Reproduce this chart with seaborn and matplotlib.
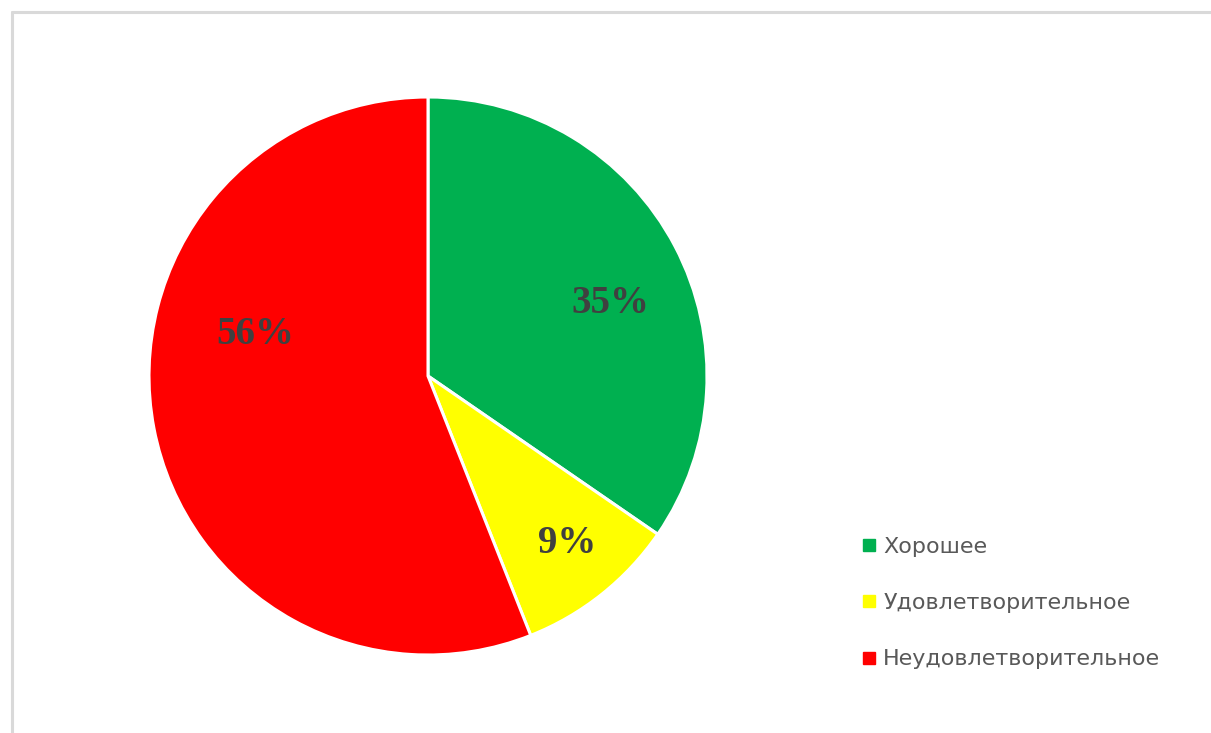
import matplotlib
matplotlib.use("Agg")
import matplotlib.pyplot as plt
from matplotlib.lines import Line2D
import seaborn as sns

# data
categories = ["Хорошее", "Удовлетворительное", "Неудовлетворительное"]
shares = [34.6, 9.4, 56.0]
pct_labels = ["35%", "9%", "56%"]
colors = ["#00b050", "#ffff00", "#ff0000"]

sns.set_theme(style="white")
plt.rcParams['font.family'] = ['DejaVu Sans']

W, H = 1211, 733
fig = plt.figure(figsize=(W / 100, H / 100), dpi=100)
fig.patch.set_facecolor("white")

# pie centre (428, 376) px, radius 279 px
cx, cy, r = 428, 376, 279
ax = fig.add_axes([(cx - r) / W, (H - cy - r) / H, 2 * r / W, 2 * r / H])
wedges, _ = ax.pie(shares, colors=colors, startangle=90, counterclock=False,
                   radius=1.0, wedgeprops=dict(edgecolor="white", linewidth=2.2))
ax.set_xlim(-1, 1)
ax.set_ylim(-1, 1)
ax.set_aspect("equal")
ax.axis("off")

# label spots (Excel best-fit placement)
label_xy = [(0.655, 0.26), (0.50, -0.60), (-0.62, 0.15)]
for txt, (x, y) in zip(pct_labels, label_xy):
    ax.text(x, y, txt, ha="center", va="center", fontsize=28, fontweight="bold",
            color="#404040", fontfamily=["Liberation Serif", "DejaVu Serif"])

handles = [Line2D([], [], marker="s", linestyle="none", markersize=8,
                  markerfacecolor=c, markeredgecolor=c) for c in colors]
leg = fig.legend(handles, categories, loc="upper left",
                 bbox_to_anchor=(851 / W, 1 - 528 / H), frameon=False,
                 fontsize=16, labelcolor="#595959", handlelength=0.8,
                 handletextpad=0.25, labelspacing=1.63, borderaxespad=0)

# thin grey frame visible at top and left
fig.add_artist(Line2D([11.5 / W, 1], [1 - 11.5 / H] * 2, color="#d9d9d9", lw=2.2,
                      transform=fig.transFigure))
fig.add_artist(Line2D([11.5 / W] * 2, [0, 1 - 11.5 / H], color="#d9d9d9", lw=2.2,
                      transform=fig.transFigure))

fig.savefig("out.png", dpi=100, facecolor="white")
